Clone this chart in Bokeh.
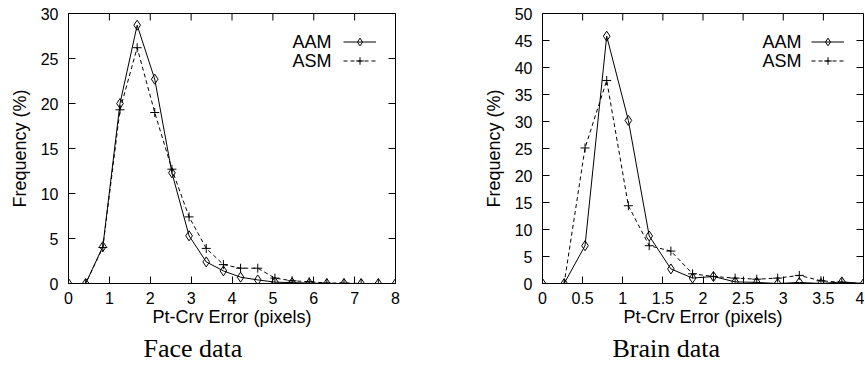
import math
from bokeh.plotting import figure
from bokeh.models import (FixedTicker, Title, Label, Legend, LegendItem,
                          Range1d)
from bokeh.layouts import row
from bokeh.embed import file_html
from bokeh.resources import INLINE

# ---------------- data ----------------
face_x = [0.0, 0.42, 0.84, 1.26, 1.68, 2.11, 2.53, 2.95, 3.37, 3.79,
          4.21, 4.63, 5.05, 5.47, 5.89, 6.32, 6.74, 7.16, 7.58, 8.0]
face_aam = [0.0, 0.0, 4.1, 20.0, 28.7, 22.7, 12.3, 5.3, 2.4, 1.4,
            0.7, 0.4, 0.15, 0.1, 0.05, 0.0, 0.0, 0.0, 0.0, 0.0]
face_asm = [0.0, 0.0, 4.0, 19.3, 26.2, 19.0, 12.7, 7.4, 3.9, 2.1,
            1.7, 1.7, 0.6, 0.3, 0.2, 0.05, 0.05, 0.0, 0.0, 0.0]
face_xticks = [0, 1, 2, 3, 4, 5, 6, 7, 8]
face_xtick_labels = ["0", "1", "2", "3", "4", "5", "6", "7", "8"]
face_yticks = [0, 5, 10, 15, 20, 25, 30]

brain_x = [0.0, 0.27, 0.53, 0.8, 1.07, 1.33, 1.6, 1.87, 2.13, 2.4,
           2.67, 2.93, 3.2, 3.47, 3.73, 4.0]
brain_aam = [0.0, 0.0, 7.0, 45.8, 30.2, 8.8, 2.7, 1.0, 1.3, 0.3,
             0.2, 0.0, 0.2, 0.0, 0.3, 0.0]
brain_asm = [0.0, 0.0, 25.1, 37.6, 14.4, 7.0, 6.0, 1.8, 1.3, 1.0,
             0.8, 1.0, 1.5, 0.5, 0.2, 0.0]
brain_xticks = [0, 0.5, 1, 1.5, 2, 2.5, 3, 3.5, 4]
brain_xtick_labels = ["0", "0.5", "1", "1.5", "2", "2.5", "3", "3.5", "4"]
brain_yticks = [0, 5, 10, 15, 20, 25, 30, 35, 40, 45, 50]

series_names = ["AAM", "ASM"]
x_title = "Pt-Crv Error (pixels)"
y_title = "Frequency (%)"
captions = ["Face data", "Brain data"]

SANS = "Liberation Sans"
SERIF = "Liberation Serif"
TICK_LEN = 7
FIG_H = 366
BORDER_TOP = 13
BORDER_BOTTOM = 83
LEG_MARGIN = 19


def style_axis(ax, ticks, labels=None):
    ax.ticker = FixedTicker(ticks=ticks)
    if labels is not None:
        ax.major_label_overrides = {t: l for t, l in zip(ticks, labels)}
    ax.axis_line_color = "black"
    ax.axis_line_width = 1
    ax.major_tick_in = TICK_LEN
    ax.major_tick_out = 0
    ax.major_tick_line_color = "black"
    ax.minor_tick_line_color = None
    ax.major_label_text_font = SANS
    ax.major_label_text_color = "black"
    ax.major_label_text_font_size = "16px"
    ax.axis_label_text_font = SANS
    ax.axis_label_text_font_size = "18px"
    ax.axis_label_text_font_style = "normal"
    ax.axis_label_text_color = "black"


def make_plot(x, aam, asm, xmax, ymax, xticks, xlabels, yticks, caption,
              fig_w, border_left, border_right, cap_offset):
    frame_w = fig_w - border_left - border_right
    frame_h = FIG_H - BORDER_TOP - BORDER_BOTTOM
    p = figure(width=fig_w, height=FIG_H,
               x_range=Range1d(0, xmax), y_range=Range1d(0, ymax),
               output_backend="svg", toolbar_location=None,
               min_border_left=border_left, min_border_right=border_right,
               min_border_top=BORDER_TOP, min_border_bottom=BORDER_BOTTOM)
    p.grid.visible = False
    p.outline_line_color = "black"
    p.outline_line_width = 1
    p.outline_line_alpha = 1
    p.background_fill_color = "white"
    p.border_fill_color = "white"

    xa = p.xaxis[0]
    style_axis(xa, xticks, xlabels)
    xa.major_label_standoff = 8
    xa.axis_label = x_title
    xa.axis_label_standoff = 0

    ya = p.yaxis[0]
    style_axis(ya, yticks)
    ya.major_label_standoff = 10
    ya.axis_label = y_title
    ya.axis_label_standoff = 8

    # mirrored inward ticks on the top and right borders
    p.ray(x=xticks, y=[ymax] * len(xticks), length=TICK_LEN,
          angle=-math.pi / 2, length_units="screen", line_color="black",
          line_width=1)
    p.ray(x=[xmax] * len(yticks), y=yticks, length=TICK_LEN,
          angle=math.pi, length_units="screen", line_color="black",
          line_width=1)

    r1 = p.line(x, aam, line_color="black", line_width=1)
    m1 = p.scatter(x, aam, marker="diamond", size=10, fill_color=None,
                   line_color="black", line_width=1)
    r2 = p.line(x, asm, line_color="black", line_width=1, line_dash="4 3")
    m2 = p.scatter(x, asm, marker="cross", size=9, line_color="black",
                   line_width=1)

    legend = Legend(items=[LegendItem(label="", renderers=[r1, m1]),
                           LegendItem(label="", renderers=[r2, m2])],
                    location="top_right", glyph_width=33, glyph_height=19,
                    label_width=0, label_standoff=0,
                    padding=0, margin=LEG_MARGIN,
                    spacing=0, border_line_color=None,
                    background_fill_alpha=0)
    p.add_layout(legend)

    for i, name in enumerate(series_names):
        p.add_layout(Label(x=frame_w - LEG_MARGIN - 33 - 12,
                           y=frame_h - LEG_MARGIN - 9.5 - 19 * i,
                           x_units="screen", y_units="screen", text=name,
                           text_align="right", text_baseline="middle",
                           text_font=SANS, text_font_size="18px",
                           text_color="black"))

    cap = Title(text=caption, align="left", offset=cap_offset,
                text_font=SERIF, text_font_size="26px",
                text_font_style="normal", text_color="black", standoff=4)
    p.add_layout(cap, "below")
    return p


p1 = make_plot(face_x, face_aam, face_asm, 8, 30, face_xticks,
               face_xtick_labels, face_yticks, captions[0],
               480, 68, 85, 75)
p2 = make_plot(brain_x, brain_aam, brain_asm, 4, 50, brain_xticks,
               brain_xtick_labels, brain_yticks, captions[1],
               384, 60, 1, 70)

layout = row(p1, p2)
open("out.html", "w").write(file_html(layout, INLINE))
